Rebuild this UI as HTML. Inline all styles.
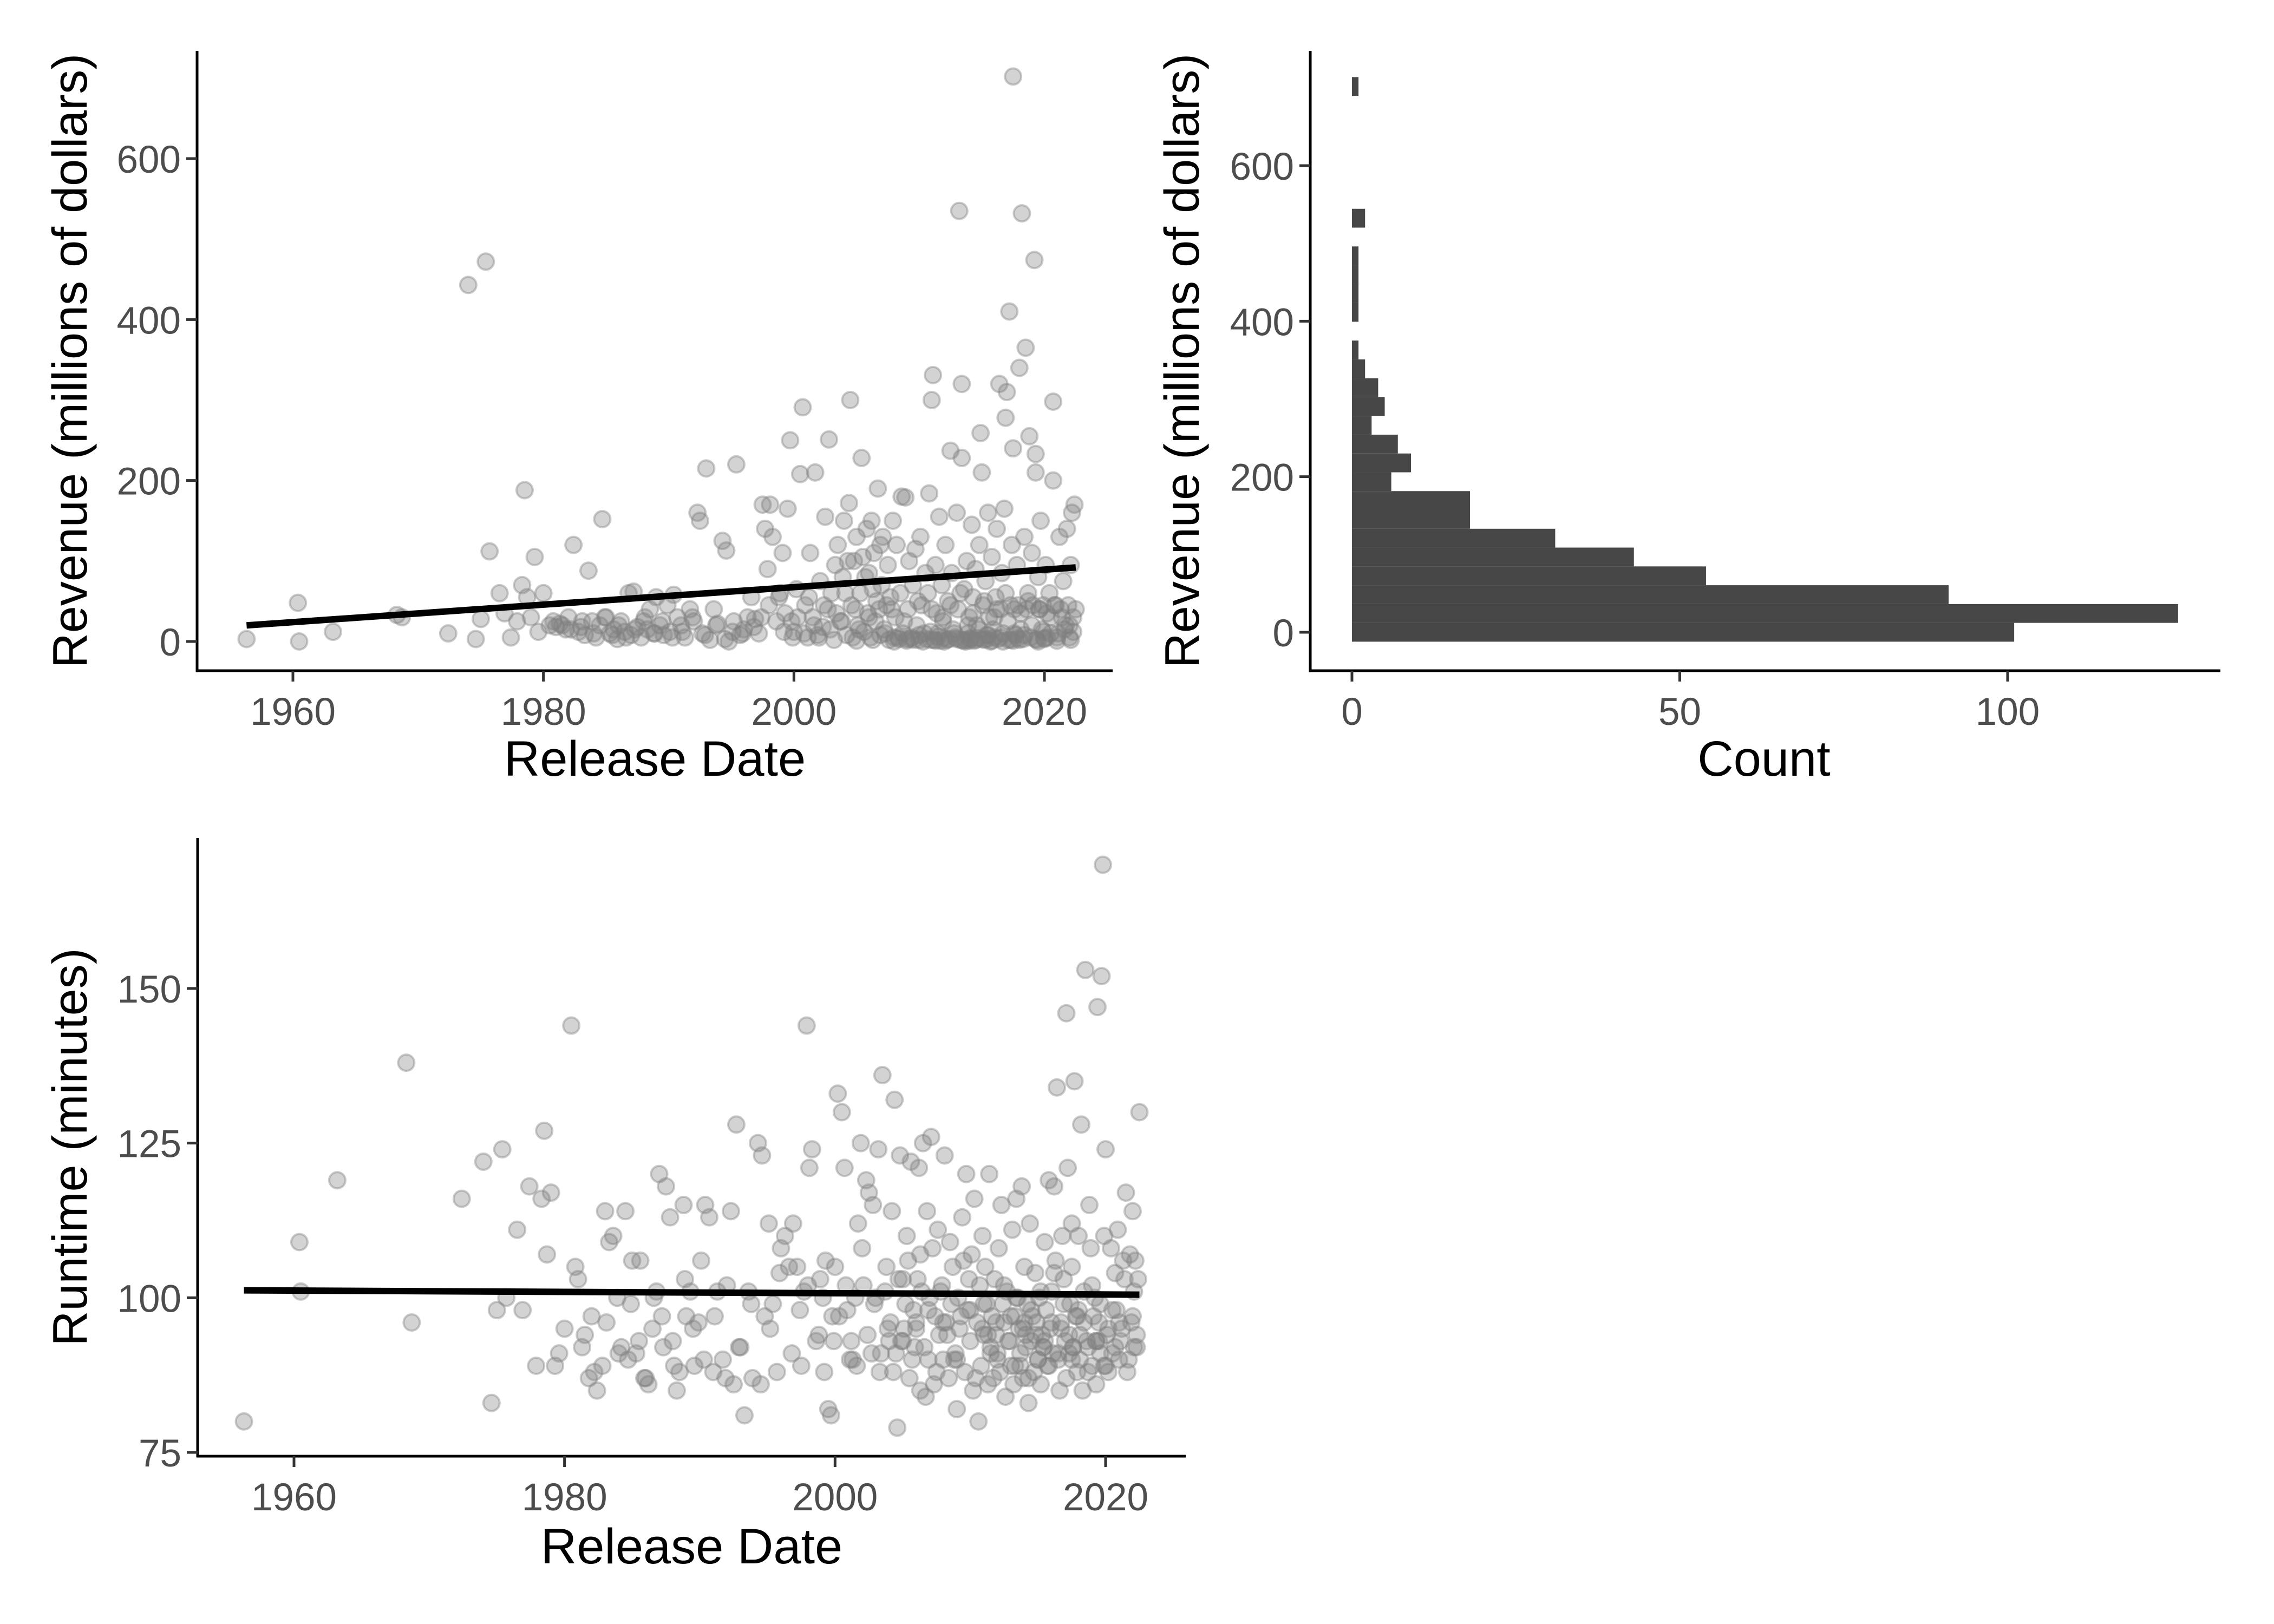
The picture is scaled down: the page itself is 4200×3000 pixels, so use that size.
<!DOCTYPE html>
<html><head><meta charset="utf-8"><style>
html,body{margin:0;padding:0;background:#fff;}
svg{display:block;}
text{font-family:"Liberation Sans",Arial,sans-serif;}
</style></head><body>
<svg id="fig" width="4200" height="3000" viewBox="0 0 4200 3000" xmlns="http://www.w3.org/2000/svg">
<rect width="4200" height="3000" fill="#fff"/>
<g id="p1"></g>
<g id="p2"></g>
<g id="p3"></g>
</svg>
<script>
const dates = [1956.3,1960.4,1960.5,1963.2,1968.3,1968.7,1972.4,1974.0,1974.6,1975.0,1975.4,1975.7,1976.5,1976.9,1977.4,1977.9,1978.3,1978.5,1978.7,1979.0,1979.3,1979.6,1980.0,1980.5,1980.8,
1981.0,1981.3,1981.8,1982.0,1982.4,1982.8,1983.0,1983.3,1983.6,1983.9,1984.2,1984.5,1984.7,1985.0,1985.3,1985.6,1985.9,1986.2,1986.5,1986.8,1987.0,1987.2,1987.5,1987.8,1988.0,1988.3,1988.5,1988.8,1989.0,1989.3,1989.6,1989.9,1990.1,1990.4,1990.7,1991.0,1991.3,1991.7,1992.0,1992.3,1992.5,1992.7,1993.0,1993.3,1993.6,1993.9,1994.3,1994.6,1994.8,1995.1,1995.4,1995.7,1996.0,1996.3,1996.6,1996.9,1997.2,1997.5,1997.7,1997.9,1998.1,1998.3,1998.6,1998.9,1999.1,1999.3,1999.5,1999.7,1999.9,
2000.0,2000.2,2000.5,2000.7,2000.9,2001.1,2001.3,2001.5,2001.7,2001.9,2002.1,2002.3,2002.5,2002.7,2002.8,2003.0,2003.2,2003.3,2003.5,2003.7,2003.9,2004.0,2004.2,2004.4,2004.5,2004.6,2004.8,2005.0,2005.1,2005.3,2005.4,2005.5,2005.6,2005.8,2005.9,2006.0,2006.1,2006.2,2006.3,2006.4,2006.5,2006.7,2006.8,2006.9,2007.0,2007.1,2007.2,2007.4,2007.5,2007.6,2007.7,2007.9,2008.0,2008.1,2008.2,2008.4,2008.5,2008.6,2008.7,2008.9,2009.0,2009.1,2009.2,2009.4,2009.5,2009.6,2009.7,2009.8,2010.0,2010.1,2010.2,2010.3,2010.5,2010.6,2010.7,2010.8,2010.9,2011.0,2011.1,2011.2,2011.3,2011.4,2011.5,2011.6,2011.7,2011.8,2011.9,2012.0,2012.1,2012.3,2012.4,2012.5,2012.6,2012.7,2012.9,2013.0,2013.1,2013.2,2013.3,2013.4,2013.4,2013.6,2013.7,2013.8,2013.9,2014.0,2014.1,2014.2,2014.3,2014.4,2014.5,2014.6,2014.7,2014.8,2014.9,2015.0,2015.1,2015.2,2015.3,2015.4,2015.5,2015.6,2015.7,2015.8,2015.9,2016.0,2016.1,2016.2,2016.3,2016.4,2016.5,2016.6,2016.7,2016.8,2016.9,2017.0,2017.1,2017.2,2017.3,2017.4,2017.5,2017.5,2017.6,2017.7,2017.8,2017.9,2018.0,2018.1,2018.2,2018.3,2018.4,2018.5,2018.6,2018.7,2018.8,2018.9,2019.0,2019.1,2019.2,2019.3,2019.3,2019.4,2019.5,2019.6,2019.7,2019.8,2019.9,2020.0,2020.1,2020.2,2020.4,2020.5,2020.7,2020.7,2020.9,2021.0,2021.2,2021.4,2021.5,2021.6,2021.8,2021.9,2022.0,2022.1,2022.2,2022.3,2022.4,2022.5,
1981.5,1982.2,1983.1,1984.0,1984.9,1985.5,1986.0,1986.6,1987.3,1988.1,1988.9,1989.5,1990.3,1991.1,1991.9,1992.9,1993.8,1994.5,1995.2,1995.9,1996.8,1997.4,1998.0,1998.8,1999.2,1999.8,
2000.3,2000.8,2001.2,2001.6,2002.0,2002.4,2002.9,2003.4,2003.8,2004.1,2004.3,2004.7,2004.9,2005.2,2005.7,2006.0,2006.3,2006.6,2006.9,2007.3,2007.8,2008.3,2008.8,2009.3,2009.9,2010.4,2010.9,2011.0,2011.5,2011.9,2012.2,2012.5,2012.8,2013.0,2013.3,2013.5,2013.9,2014.1,2014.3,2014.5,2014.8,2015.0,2015.2,2015.5,2015.8,2016.0,2016.2,2016.5,2016.9,2017.1,2017.3,2017.6,2017.9,2018.1,2018.4,2018.7,2019.0,2019.3,2019.6,2019.9,2020.2,2020.5,2020.8,2021.1,2021.3,2021.7,2022.0,2022.3,2005.0,2008.0,2009.0,2010.0,2011.3,2012.0,2013.7,2014.0,2015.4,2016.7,2017.5,2018.0,2019.5,2020.0,2021.0,2022.1];
const revenue = [3,48,0,12,33,30,10,443,3,28,472,112,60,35,5,25,70,188,55,30,105,12,60,20,25,
18,22,15,30,120,12,18,8,88,25,5,20,152,30,10,15,3,25,12,60,8,62,18,5,25,15,40,10,55,20,8,45,12,58,30,20,5,40,25,160,150,10,215,2,40,22,125,113,0,12,220,8,15,30,55,28,10,170,140,90,170,130,25,60,110,35,165,250,5,
12,65,208,291,45,5,110,30,210,8,75,18,155,40,251,60,2,95,120,25,80,150,8,172,300,45,100,130,20,60,228,105,12,140,35,85,5,150,65,110,25,190,40,8,70,130,15,45,95,2,55,150,5,30,120,3,60,180,10,179,1,40,100,5,70,2,115,20,8,130,45,0,85,3,60,184,12,300,331,2,95,35,10,155,1,70,25,4,120,50,3,237,85,15,5,160,40,535,2,320,228,65,0,100,10,30,3,145,55,1,90,20,4,120,259,210,45,2,75,8,160,30,0,105,15,5,55,140,3,320,40,85,10,165,278,310,25,410,2,120,702,240,40,8,95,45,340,15,532,3,130,365,40,60,255,5,110,45,474,233,210,2,80,40,150,15,45,4,95,35,60,10,298,200,45,5,130,30,75,15,140,45,20,95,160,12,170,40,
20,15,25,10,30,8,20,5,15,30,10,25,5,12,30,8,20,3,25,10,18,30,45,55,12,25,
30,10,55,20,5,45,15,35,25,60,100,5,40,15,80,30,2,50,120,10,40,5,25,3,50,10,2,40,6,30,2,45,10,3,60,1,20,4,35,2,15,3,50,8,1,30,40,5,60,2,45,10,4,35,8,50,20,3,40,12,5,30,45,10,40,20,5,30,1,0,3,2,1,0,2,1,3,0,1,2,0,3,1,2];
const runtime = [80,109,101,119,138,96,116,122,83,98,124,100,111,98,118,89,116,127,107,117,89,91,95,144,105,
103,92,87,97,85,89,114,109,110,100,92,114,90,106,91,106,87,86,95,101,120,97,118,113,93,85,88,115,97,101,89,96,106,115,113,88,101,90,102,114,86,128,92,81,101,87,125,123,97,112,99,88,108,110,105,112,105,89,101,144,121,124,93,103,100,106,82,81,93,
105,133,130,121,98,90,90,100,112,125,102,119,117,91,115,100,124,88,136,101,95,93,114,132,91,79,123,103,95,110,106,87,122,98,92,96,103,121,85,101,125,84,114,90,100,126,108,97,88,111,94,102,90,123,96,87,109,99,105,91,82,100,95,113,106,88,120,98,93,107,85,116,96,80,102,89,110,94,105,99,86,120,92,97,87,103,94,90,108,115,99,96,84,101,93,89,111,86,97,116,100,95,91,118,87,105,94,99,83,112,93,97,88,104,96,90,100,86,94,92,109,98,89,119,95,101,91,118,106,134,90,85,96,110,103,93,146,121,91,99,112,105,92,135,97,88,110,94,128,85,101,153,93,92,115,108,89,97,100,86,93,147,96,91,152,170,110,124,94,88,108,98,104,92,111,90,95,103,117,88,107,96,114,101,106,92,103,130,
94,88,96,91,99,93,87,100,92,89,103,95,90,97,87,92,99,86,95,104,91,98,102,94,88,97,
97,102,93,89,108,94,99,91,105,96,88,103,93,99,90,95,107,92,98,86,101,94,90,97,103,87,95,99,91,96,88,102,93,97,89,100,95,92,87,98,94,90,101,93,89,96,104,91,99,87,94,92,97,90,96,88,102,93,99,89,95,91,98,93,106,90,97,94,93,96,90,98,94,91,89,96,92,95,90,98,93,89,96,92];
const fitDates = [1956.3, 2022.5];
const fitRevenue = [20, 92];
const fitRuntime = [101.2, 100.5];
const histCounts = [101,126,91,54,43,31,18,18,6,9,7,3,5,4,2,1,0,1,1,1,1,0,2,0,0,0,0,0,0,1];
const histBinWidth = 24.2;
const revTicks = [0,200,400,600];
const yearTicks = [1960,1980,2000,2020];
const countTicks = [0,50,100];
const runtimeTicks = [75,100,125,150];

const NS='http://www.w3.org/2000/svg';
function mk(parent,tag,attrs,txt){const e=document.createElementNS(NS,tag);for(const k in attrs)e.setAttribute(k,attrs[k]);if(txt!==undefined)e.textContent=txt;parent.appendChild(e);return e;}
function lin(d0,d1,r0,r1){return v=>r0+(v-d0)*(r1-r0)/(d1-d0);}

function axes(g,L,T,R,B){
  const ya=mk(g,'line',{x1:L,y1:T,x2:L,y2:B+2,stroke:'#000','stroke-width':5});
  
  
  const xa=mk(g,'line',{x1:L-2,y1:B,x2:R,y2:B,stroke:'#000','stroke-width':5});
  
  
}
function yTicks(g,ticks,ys,L){
  ticks.forEach(t=>{
    const y=ys(t);
    const tl=mk(g,'line',{x1:L-20,y1:y,x2:L,y2:y,stroke:'#333','stroke-width':5});
    
    
    const tx=mk(g,'text',{x:L-30,y:y+26,'text-anchor':'end','font-size':71,fill:'#4d4d4d'},String(t));
    
    
  });
}
function xTicks(g,ticks,xs,B){
  ticks.forEach(t=>{
    const x=xs(t);
    const tl=mk(g,'line',{x1:x,y1:B,x2:x,y2:B+20,stroke:'#333','stroke-width':5});
    
    
    const tx=mk(g,'text',{x:x,y:B+100,'text-anchor':'middle','font-size':71,fill:'#4d4d4d'},String(t));
    
    
  });
}
function titles(g,xt,xcx,xby,yt,ycx,ycy){
  const a=mk(g,'text',{x:xcx,y:xby,'text-anchor':'middle','font-size':92,fill:'#000'},xt);
  
  
  const b=mk(g,'text',{x:0,y:0,'text-anchor':'middle','font-size':90,fill:'#000',transform:`translate(${ycx},${ycy}) rotate(-90)`},yt);
  
  
}
function points(g,xs,ys,xv,yv){
  const pg=mk(g,'g',{});
  
  
  for(let i=0;i<xv.length;i++){
    const c=mk(pg,'circle',{cx:xs(xv[i]),cy:ys(yv[i]),r:15,fill:'rgba(127,127,127,0.34)',stroke:'rgba(127,127,127,0.4)','stroke-width':4});
    
    
  }
}
function fit(g,xs,ys,xv,yv){
  const l=mk(g,'line',{x1:xs(xv[0]),y1:ys(yv[0]),x2:xs(xv[1]),y2:ys(yv[1]),stroke:'#000','stroke-width':12});
  
  
}

// Panel 1
{
  const g=document.getElementById('p1');
  const L=364,T=94,R=2055,B=1239;
  const xs=lin(1960,2020,541,1929), ys=lin(0,600,1185,293);
  points(g,xs,ys,dates,revenue);
  fit(g,xs,ys,fitDates,fitRevenue);
  axes(g,L,T,R,B);
  yTicks(g,revTicks,ys,L);
  xTicks(g,yearTicks,xs,B);
  titles(g,'Release Date',(L+R)/2,1433,'Revenue (millions of dollars)',160,(T+B)/2);
}
// Panel 2
{
  const g=document.getElementById('p2');
  const L=2420,T=94,R=4101,B=1239;
  const xs=lin(0,100,2497,3708), ys=lin(0,600,1168,306);
  const bg=mk(g,'g',{});
  
  
  histCounts.forEach((c,k)=>{
    if(c<=0)return;
    const y0=ys(k*histBinWidth-histBinWidth/2), y1=ys(k*histBinWidth+histBinWidth/2);
    const r=mk(bg,'rect',{x:xs(0),y:y1,width:xs(c)-xs(0),height:y0-y1,fill:'#474747'});
    
    
  });
  axes(g,L,T,R,B);
  yTicks(g,revTicks,ys,L);
  xTicks(g,countTicks,xs,B);
  titles(g,'Count',3258,1433,'Revenue (millions of dollars)',2214,(T+B)/2);
}
// Panel 3
{
  const g=document.getElementById('p3');
  const L=365,T=1548,R=2190,B=2690;
  const xs=lin(1960,2020,543,2042), ys=lin(75,150,2683,1826);
  points(g,xs,ys,dates,runtime);
  fit(g,xs,ys,fitDates,fitRuntime);
  axes(g,L,T,R,B);
  yTicks(g,runtimeTicks,ys,L);
  xTicks(g,yearTicks,xs,B);
  titles(g,'Release Date',(L+R)/2,2888,'Runtime (minutes)',160,(T+B)/2);
}
</script>
</body></html>
